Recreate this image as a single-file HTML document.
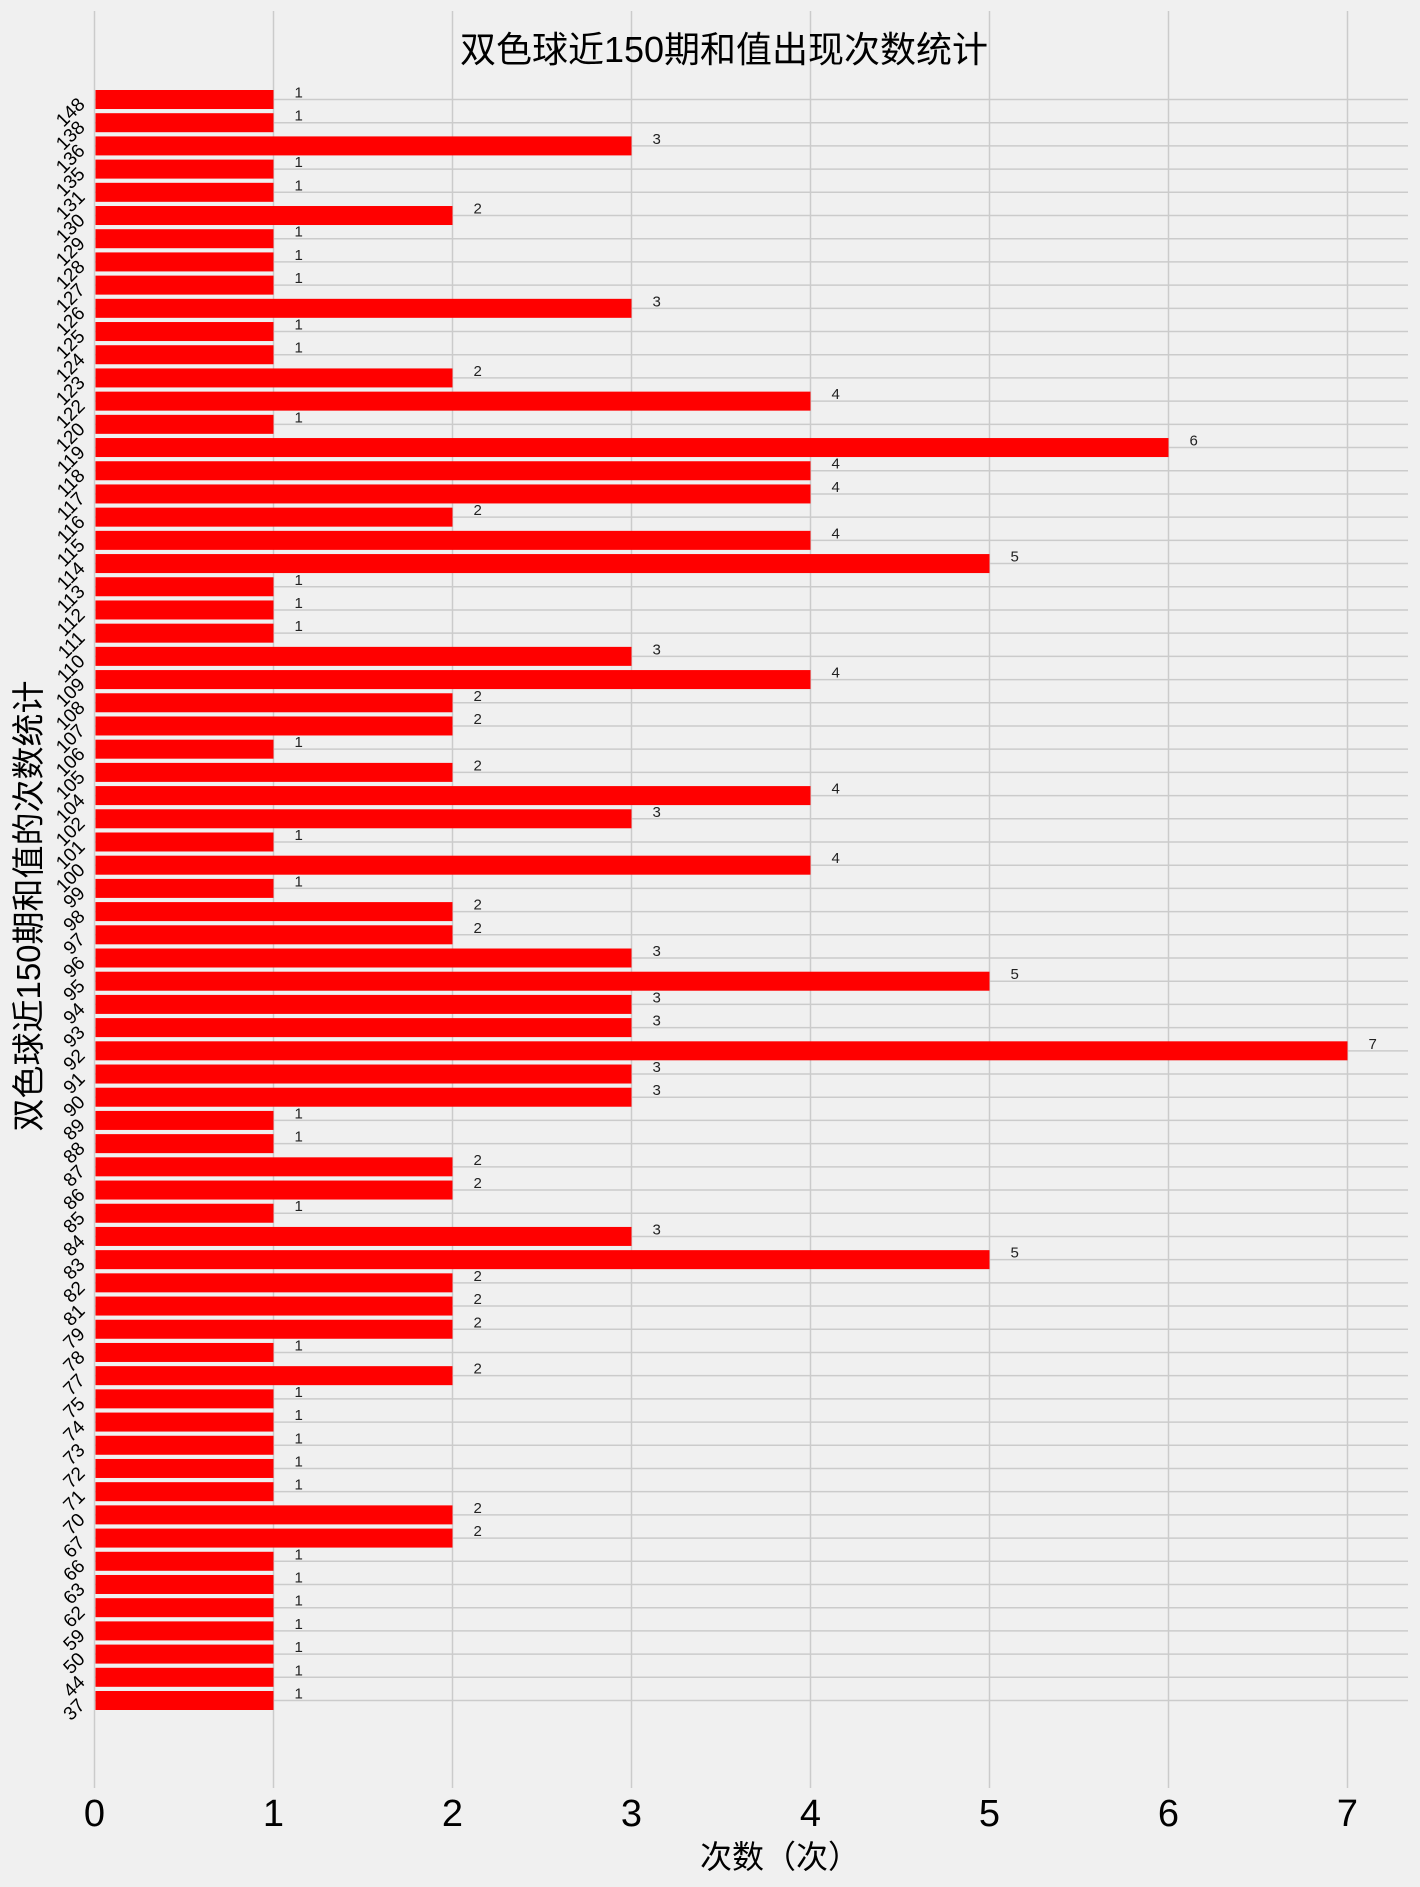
<!DOCTYPE html>
<html><head><meta charset="utf-8"><style>
body{margin:0;background:#f0f0f0}
svg text{font-family:"Liberation Sans","Noto Sans CJK SC",sans-serif}
</style></head><body>
<svg id="chart" width="1420" height="1882" xmlns="http://www.w3.org/2000/svg">
<rect width="1420" height="1882" fill="#f0f0f0"/>
<g id="grid"></g>
<g id="bars"></g>
<g id="ylabels"></g>
<g id="xlabels"></g>
<text x="724" y="62" font-size="36" text-anchor="middle">双色球近150期和值出现次数统计</text>
<text x="780" y="1868" font-size="32" text-anchor="middle">次数（次）</text>
<text transform="translate(40,906) rotate(-90)" font-size="33" text-anchor="middle">双色球近150期和值的次数统计</text>
</svg>
<script>
const categories=["148","138","136","135","131","130","129","128","127","126","125","124","123","122","120","119","118","117","116","115","114","113","112","111","110","109","108","107","106","105","104","102","101","100","99","98","97","96","95","94","93","92","91","90","89","88","87","86","85","84","83","82","81","79","78","77","75","74","73","72","71","70","67","66","63","62","59","50","44","37"];
const counts=[1,1,3,1,1,2,1,1,1,3,1,1,2,4,1,6,4,4,2,4,5,1,1,1,3,4,2,2,1,2,4,3,1,4,1,2,2,3,5,3,3,7,3,3,1,1,2,2,1,3,5,2,2,2,1,2,1,1,1,1,1,2,2,1,1,1,1,1,1,1];
const xTicks=[0,1,2,3,4,5,6,7];
const NS="http://www.w3.org/2000/svg";
const x0=94.5,unit=179,yTop=99.5,yBot=1700.5;
const step=(yBot-yTop)/(categories.length-1);
const xs=v=>x0+v*unit, ys=i=>yTop+i*step;
function mk(t,a,p){const e=document.createElementNS(NS,t);for(const k in a)e.setAttribute(k,a[k]);p.appendChild(e);return e;}
const grid=document.getElementById('grid'),bars=document.getElementById('bars'),yl=document.getElementById('ylabels'),xl=document.getElementById('xlabels');
xTicks.forEach(t=>{
 const l=mk('line',{x1:xs(t),x2:xs(t),y1:11,y2:1788,stroke:'#cbcbcb','stroke-width':1.5},grid);
 
 
 const tx=mk('text',{x:xs(t),y:1826,'font-size':38,'text-anchor':'middle'},xl);
 tx.textContent=t;
 
 
});
categories.forEach((c,i)=>{
 const y=ys(i);
 const g=mk('line',{x1:x0,x2:1408,y1:y,y2:y,stroke:'#cbcbcb','stroke-width':1.5},grid);
 
 
 const r=mk('rect',{x:x0+1,y:y-9.5,width:xs(counts[i])-x0-1,height:19,fill:'#ff0000'},bars);
 
 
 const v=mk('text',{x:xs(counts[i])+21,y:y-2,'font-size':15,fill:'#222'},bars);
 v.textContent=counts[i];
 
 
 const t=mk('text',{transform:`translate(86,${y+6}) rotate(-45)`,'font-size':19,'text-anchor':'end'},yl);
 t.textContent=c;
 
 
});
</script>
</body></html>
